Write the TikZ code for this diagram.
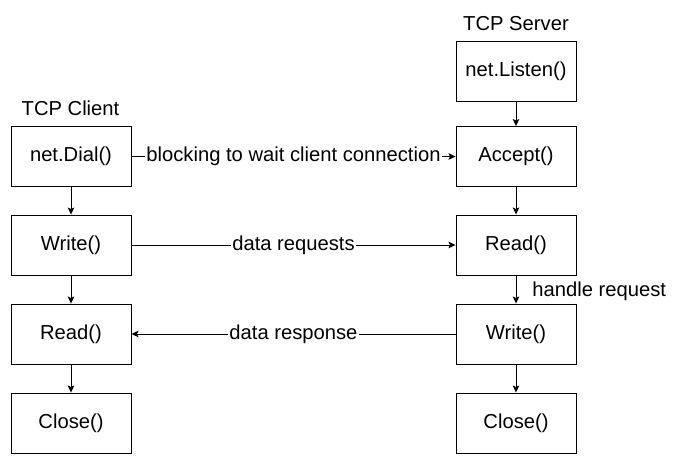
\documentclass[tikz,border=0pt]{standalone}
\usepackage{fontspec}
\setmainfont{Liberation Sans}
\usetikzlibrary{arrows.meta}
\begin{document}
\begin{tikzpicture}[x=1pt,y=-1pt,
  box/.style={draw=black,line width=0.9pt,minimum width=120pt,minimum height=60pt,inner sep=0pt,font=\fontsize{20.2}{23}\selectfont},
  ttl/.style={inner sep=0pt,font=\fontsize{20.2}{23}\selectfont},
  conn/.style={draw=black,line width=0.9pt,-{Stealth[length=7pt,width=6.5pt,inset=1.5pt]}},
  lbl/.style={fill=white,inner sep=1pt,font=\fontsize{20.2}{23}\selectfont}]
\useasboundingbox (0,0) rectangle (673,470);
\node[ttl] (tc) at (70.5,108) {TCP Client};
\node[ttl] (ts) at (516,24) {TCP Server};
\node[box] (dial) at (71,156.5) {net.Dial()};
\node[box] (cw) at (71,245) {Write()};
\node[box] (cr) at (71,334) {Read()};
\node[box] (cc) at (71,423) {Close()};
\node[box] (listen) at (516,71) {net.Listen()};
\node[box] (acc) at (516,156.5) {Accept()};
\node[box] (sr) at (516,245) {Read()};
\node[box] (sw) at (516,334) {Write()};
\node[box] (sc) at (516,423) {Close()};
\draw[conn] (dial) -- (cw);
\draw[conn] (cw) -- (cr);
\draw[conn] (cr) -- (cc);
\draw[conn] (listen) -- (acc);
\draw[conn] (acc) -- (sr);
\draw[conn] (sr) -- node[right=16pt,yshift=-2pt,ttl] (hr) {handle request} (sw);
\draw[conn] (sw) -- (sc);
\draw[conn] (dial) -- node[lbl] (l1) {blocking to wait client connection} (acc);
\draw[conn] (cw) -- node[lbl] (l2) {data requests} (sr);
\draw[conn] (sw) -- node[lbl] (l3) {data response} (cr);
\end{tikzpicture}
\end{document}
